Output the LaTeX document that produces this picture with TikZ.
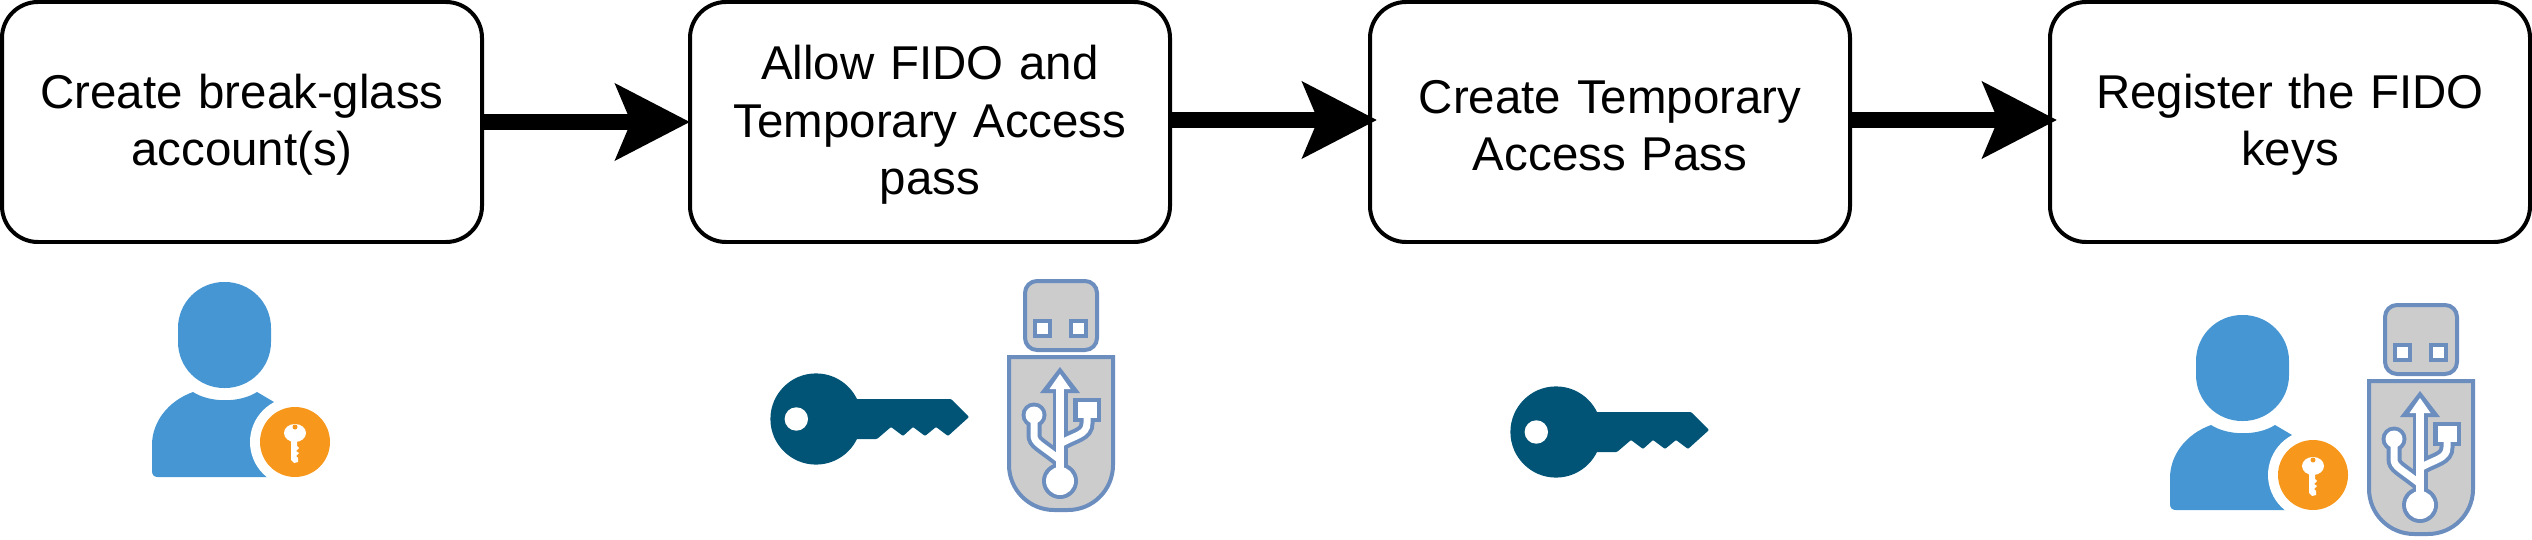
\documentclass[tikz,border=0pt]{standalone}
\usepackage{fontspec}
\setmainfont{Liberation Sans}
\usetikzlibrary{arrows.meta}
\definecolor{userblue}{HTML}{4596D3}
\definecolor{badgeorange}{HTML}{F7981D}
\definecolor{keyblue}{HTML}{025476}
\definecolor{usbline}{HTML}{6C8EBF}
\definecolor{usbfill}{HTML}{CCCCCC}

\begin{document}
\begin{tikzpicture}[
  every node/.style={font=\fontsize{13.5}{16.3}\selectfont},
  stap/.style={draw=black, fill=white, line width=0.04cm, rounded corners=0.36cm, outer sep=0pt,
    minimum width=4.8cm, minimum height=2.4cm, text width=4.3cm, align=center, anchor=north west,
    execute at begin node=\rule{0pt}{11.5pt}},
  pijl/.style={-{Stealth[length=0.74cm, width=0.75cm, inset=0.15cm]}, line width=0.16cm, black},
  usericon/.pic={
    \fill[userblue] (0.26,0.89) [rounded corners=0.46cm] rectangle (1.19,1.95);
    \fill[userblue] (0.41,0.85) .. controls (0.16,0.76) and (0,0.55) .. (0,0.32) -- (0,0.06)
      .. controls (0,0.02) and (0.02,0) .. (0.06,0) -- (1.4,0) -- (1.4,0.65) -- (1.22,0.75) -- (1.05,0.85)
      .. controls (0.88,0.74) and (0.58,0.74) .. cycle;
    \fill[white] (1.43,0.35) circle[radius=0.45];
    \fill[badgeorange] (1.43,0.35) circle[radius=0.35];
    \fill[white] (1.43,0.44) ellipse[x radius=0.11, y radius=0.09];
    \fill[white] (1.39,0.40) -- (1.39,0.17) -- (1.42,0.14) -- (1.46,0.15) -- (1.46,0.19) -- (1.44,0.21)
      -- (1.47,0.24) -- (1.44,0.26) -- (1.47,0.29) -- (1.45,0.31) -- (1.45,0.40) -- cycle;
    \fill[badgeorange] (1.43,0.50) circle[radius=0.025];
  },
  keyicon/.pic={
    \fill[keyblue] (0,0) circle[radius=0.456];
    \fill[keyblue, rounded corners=0.01cm] (0.35,0.20) -- (1.35,0.20) -- (1.53,0.02) -- (1.32,-0.17) -- (1.20,-0.08) -- (1.09,-0.17)
      -- (0.97,-0.08) -- (0.87,-0.17) -- (0.75,-0.08) -- (0.61,-0.20) -- (0.35,-0.20) -- cycle;
    \fill[white] (-0.197,0) circle[radius=0.117];
  },
  usbicon/.pic={
    \draw[usbline, fill=usbfill, line width=0.04cm, rounded corners=0.12cm] (-0.35,0.07) rectangle (0.37,0.76);
    \draw[usbline, fill=white, line width=0.045cm] (-0.25,0.21) rectangle (-0.10,0.36);
    \draw[usbline, fill=white, line width=0.045cm] (0.11,0.21) rectangle (0.26,0.36);
    \draw[usbline, fill=usbfill, line width=0.04cm, rounded corners=0.45cm] (-0.51,0) -- (-0.51,-1.53) -- (0.53,-1.53)
      [rounded corners=0pt] -- (0.53,0) -- cycle;
    % blauwe onderlaag
    \fill[usbline] (0,-0.10) -- (0.20,-0.36) -- (-0.20,-0.36) -- cycle;
    \fill[usbline] (0.13,-0.41) rectangle (0.41,-0.65);
    \fill[usbline] (-0.26,-0.58) circle[radius=0.125];
    \fill[usbline] (0,-1.24) circle[radius=0.18];
    \draw[usbline, line width=0.15cm] (0,-0.3) -- (0,-1.24);
    \draw[usbline, line width=0.15cm] (-0.26,-0.58) -- (-0.26,-0.78) .. controls (-0.26,-0.86) and (-0.2,-0.87) .. (0,-1.03);
    \draw[usbline, line width=0.15cm] (0.27,-0.58) -- (0.27,-0.66) .. controls (0.27,-0.78) and (0.15,-0.78) .. (0,-0.87);
    % witte bovenlaag
    \fill[white] (0,-0.17) -- (0.105,-0.32) -- (-0.105,-0.32) -- cycle;
    \fill[white] (0.18,-0.45) rectangle (0.37,-0.61);
    \fill[white] (-0.26,-0.58) circle[radius=0.085];
    \fill[white] (0,-1.24) circle[radius=0.14];
    \draw[white, line width=0.075cm] (0,-0.3) -- (0,-1.24);
    \draw[white, line width=0.07cm] (-0.26,-0.58) -- (-0.26,-0.78) .. controls (-0.26,-0.86) and (-0.2,-0.87) .. (0,-1.03);
    \draw[white, line width=0.07cm] (0.27,-0.58) -- (0.27,-0.66) .. controls (0.27,-0.78) and (0.15,-0.78) .. (0,-0.87);
  }
]
\useasboundingbox (0,0) rectangle (25.32,-5.40);
\node[stap] (BreakGlass) at (0.020,-0.020) {Create break-glass\\account(s)};
\node[stap] (AllowFido) at (6.900,-0.020) {Allow FIDO and\\Temporary Access\\pass};
\node[stap] (CreateTap) at (13.700,-0.020) {Create Temporary\\Access Pass};
\node[stap] (RegisterKeys) at (20.500,-0.020) {Register the FIDO\\keys};
\draw[pijl] (BreakGlass) -- (AllowFido);
\draw[pijl, shorten >=-0.07cm] ([yshift=0.02cm]AllowFido.east) -- ([yshift=0.02cm]CreateTap.west);
\draw[pijl, shorten >=-0.07cm] ([yshift=0.02cm]CreateTap.east) -- ([yshift=0.02cm]RegisterKeys.west);
\pic at (1.520,-4.770) {usericon};
\pic at (8.160,-4.190) {keyicon};
\pic at (10.600,-3.570) {usbicon};
\pic at (15.560,-4.320) {keyicon};
\pic at (21.700,-5.100) {usericon};
\pic at (24.200,-3.810) {usbicon};
\end{tikzpicture}
\end{document}
